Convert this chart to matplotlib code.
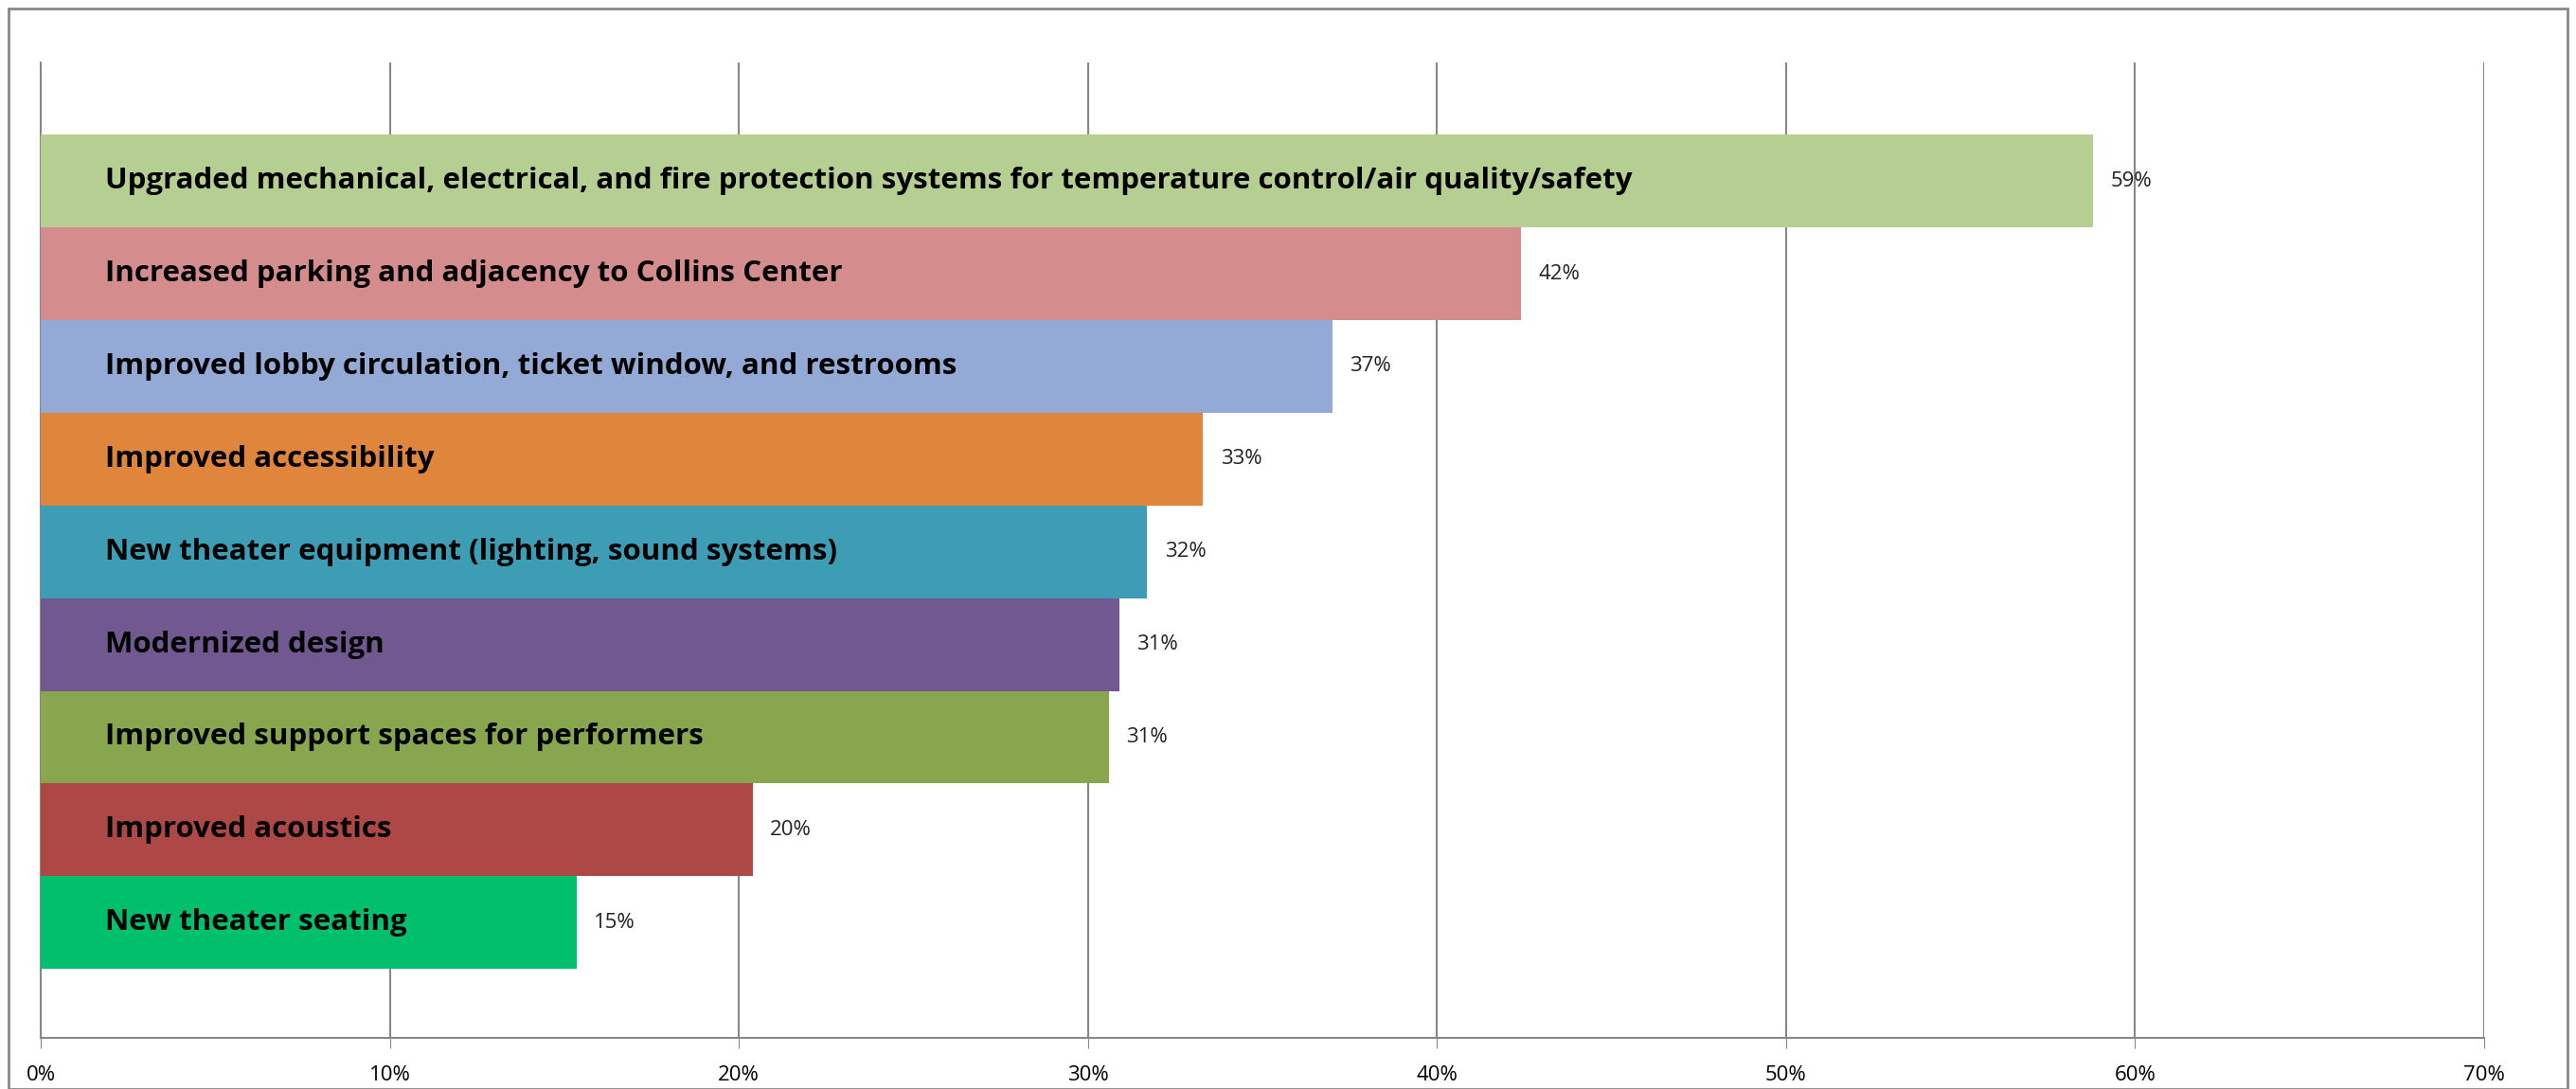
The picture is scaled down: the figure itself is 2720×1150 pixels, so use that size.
import matplotlib
matplotlib.use("Agg")
import matplotlib.pyplot as plt
from matplotlib.patches import Rectangle

categories = [
    "Upgraded mechanical, electrical, and fire protection systems for temperature control/air quality/safety",
    "Increased parking and adjacency to Collins Center",
    "Improved lobby circulation, ticket window, and restrooms",
    "Improved accessibility",
    "New theater equipment (lighting, sound systems)",
    "Modernized design",
    "Improved support spaces for performers",
    "Improved acoustics",
    "New theater seating",
]
values = [58.8, 42.4, 37.0, 33.3, 31.7, 30.9, 30.6, 20.4, 15.35]
value_labels = ["59%", "42%", "37%", "33%", "32%", "31%", "31%", "20%", "15%"]
colors = ["#B5CF92", "#D58C8C", "#93A9D6", "#E0853C", "#3D9DB5",
          "#725890", "#88A64E", "#AE4846", "#00C06E"]
xticks = [0, 10, 20, 30, 40, 50, 60, 70]
xtick_labels = ["0%", "10%", "20%", "30%", "40%", "50%", "60%", "70%"]

W, H = 2720, 1150
fig = plt.figure(figsize=(W / 100, H / 100), dpi=100)
fig.patch.set_facecolor("white")
fig.patches.append(Rectangle((9 / W, 0), (2711 - 9) / W, (H - 9) / H,
                             transform=fig.transFigure, fill=False,
                             edgecolor="#888888", linewidth=2))

left, right = 43, 2623
top, bottom = 66, 1096
ax = fig.add_axes([left / W, 1 - bottom / H, (right - left) / W, (bottom - top) / H])

n = len(categories)
ypos = list(range(n))
ax.barh(ypos, values, height=1.0, color=colors, zorder=3)
ax.set_xlim(0, 70)
ax.set_ylim(n - 1 + 0.5 + 0.745, -0.5 - 0.78)

for y, cat, v, lab in zip(ypos, categories, values, value_labels):
    ax.text(1.85, y, cat, va="center", ha="left", fontsize=22.5,
            fontweight="bold", family="Open Sans", color="black", zorder=4)
    ax.text(v + 0.5, y, lab, va="center", ha="left", fontsize=16,
            family="Open Sans", color="#222222", zorder=4)

ax.set_xticks(xticks)
ax.set_xticklabels(xtick_labels, fontsize=16, family="Open Sans")
ax.xaxis.grid(True, color="#888888", linewidth=1.5, zorder=0)
ax.set_yticks([])
for s in ["top", "right"]:
    ax.spines[s].set_visible(False)
ax.spines["left"].set_color("#888888")
ax.spines["bottom"].set_color("#888888")
ax.spines["left"].set_linewidth(1.5)
ax.spines["bottom"].set_linewidth(1.5)
ax.tick_params(axis="x", length=8, color="#888888", pad=13)

fig.savefig("out.png", dpi=100)
